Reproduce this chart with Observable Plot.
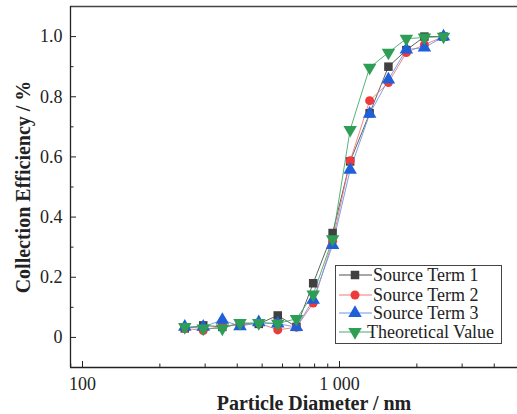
<!DOCTYPE html>
<html><head><meta charset="utf-8">
<style>
body{margin:0;background:#fff;font-family:"Liberation Serif","Times New Roman",serif}
svg{display:block}
</style>
<script src="https://cdn.jsdelivr.net/npm/d3@7"></script>
<script src="https://cdn.jsdelivr.net/npm/@observablehq/plot@0.6"></script>
</head><body>
<div id="chart"></div>
<script>
// ---- data ----
const diameters = [250, 295, 350, 410, 485, 575, 680, 790, 940, 1100, 1310, 1550, 1820, 2140, 2540];
const seriesNames = ["Source Term 1", "Source Term 2", "Source Term 3", "Theoretical Value"];
const term1 = [0.030, 0.040, 0.035, 0.045, 0.045, 0.073, 0.035, 0.180, 0.347, 0.585, 0.745, 0.900, 0.955, 1.000, 1.000];
const term2 = [0.030, 0.023, 0.038, 0.042, 0.048, 0.025, 0.034, 0.114, 0.320, 0.587, 0.787, 0.847, 0.947, 0.973, 1.000];
const term3 = [0.035, 0.035, 0.058, 0.037, 0.050, 0.046, 0.034, 0.125, 0.307, 0.557, 0.743, 0.857, 0.957, 0.963, 1.000];
const theory = [0.035, 0.030, 0.030, 0.048, 0.048, 0.046, 0.062, 0.143, 0.327, 0.690, 0.897, 0.947, 0.993, 0.997, 1.000];
const xTicksMajor = [100, 1000];
const xTickLabels = ["100", "1 000"];
const xTicksMinor = [90, 200, 300, 400, 500, 600, 700, 800, 900, 2000, 3000, 4000];
const yTicksMajor = [0, 0.2, 0.4, 0.6, 0.8, 1.0];
const yTickLabels = ["0", "0.2", "0.4", "0.6", "0.8", "1.0"];
const yTicksMinor = [-0.1, 0.1, 0.3, 0.5, 0.7, 0.9];

// ---- styles ----
const markerColors = ["#404040", "#ee3a3a", "#1f5fd8", "#2e9e57"];
const lineColors = ["#505050", "#f07878", "#6b96e6", "#45a86a"];
const font = "Liberation Serif";
const downTriangle = {
  draw(ctx, size) {
    const t = Math.sqrt(size / (Math.sqrt(3) * 3));
    ctx.moveTo(0, 2 * t);
    ctx.lineTo(-Math.sqrt(3) * t, -t);
    ctx.lineTo(Math.sqrt(3) * t, -t);
    ctx.closePath();
  }
};
const symbols = ["square", "circle", "triangle", downTriangle];
const radii = [4.8, 4.5, 5, 5];

const allSeries = [term1, term2, term3, theory];
const rows = allSeries.flatMap((vals, si) => vals.map((v, i) => ({series: seriesNames[si], si, d: diameters[i], v})));

const xDomain = [89.8, 4927];
const yDomain = [-0.1, 1.1];

function draw() {
  const lineMarks = allSeries.map((vals, si) =>
    Plot.line(rows.filter(r => r.si === si), {x: "d", y: "v", stroke: lineColors[si], strokeWidth: 0.9}));
  const dotMarks = allSeries.map((vals, si) =>
    Plot.dot(rows.filter(r => r.si === si), {x: "d", y: "v", symbol: () => symbols[si], fill: markerColors[si], r: radii[si], stroke: "none"}));

  const chart = Plot.plot({
    width: 517, height: 414,
    marginLeft: 70, marginRight: 0, marginTop: 6, marginBottom: 47,
    style: {fontFamily: font, background: "#fff", color: "#222"},
    x: {type: "log", domain: xDomain, axis: null},
    y: {domain: yDomain, axis: null},
    symbol: {type: "identity"},
    marks: [
      Plot.ruleY([yDomain[1]], {stroke: "#444", strokeWidth: 1.3}),
      Plot.ruleY([yDomain[0]], {stroke: "#222", strokeWidth: 1.3}),
      Plot.ruleX([xDomain[0]], {stroke: "#222", strokeWidth: 1.3}),
      Plot.axisX(xTicksMajor, {anchor: "bottom", label: null, tickSize: 0, tickPadding: 10, fontSize: 18, tickFormat: d => xTickLabels[xTicksMajor.indexOf(d)], fill: "#222"}),
      Plot.axisX(xTicksMajor, {anchor: "bottom", label: null, tickSize: -6, tickFormat: () => "", stroke: "#222"}),
      Plot.axisX(xTicksMinor, {anchor: "bottom", label: null, tickSize: -3.5, tickFormat: () => "", stroke: "#222"}),
      Plot.axisY(yTicksMajor, {anchor: "left", label: null, tickSize: 0, tickPadding: 8, fontSize: 18, tickFormat: d => yTickLabels[yTicksMajor.indexOf(d)], fill: "#222"}),
      Plot.axisY(yTicksMajor, {anchor: "left", label: null, tickSize: -6, tickFormat: () => "", stroke: "#222"}),
      Plot.axisY(yTicksMinor, {anchor: "left", label: null, tickSize: -3.5, tickFormat: () => "", stroke: "#222"}),
      Plot.text(["Particle Diameter / nm"], {frameAnchor: "bottom", textAnchor: "middle", lineAnchor: "middle", dx: 20, dy: 36, fontSize: 20, fontWeight: "bold", fill: "#222"}),
      Plot.text(["Collection Efficiency / %"], {frameAnchor: "left", textAnchor: "middle", lineAnchor: "middle", rotate: -90, dx: -47, fontSize: 20, fontWeight: "bold", fill: "#222"}),
      ...lineMarks,
      ...dotMarks
    ]
  });

  // legend (drawn into the same SVG)
  const svg = d3.select(chart);
  const lg = svg.append("g").attr("font-size", 18).attr("fill", "#222").attr("text-anchor", "start");
  lg.append("rect").attr("x", 335.5).attr("y", 265.5).attr("width", 166).attr("height", 78)
    .attr("fill", "#fff").attr("stroke", "#444").attr("stroke-width", 1);
  const rowY = [275, 295, 313, 332];
  const textX = [373, 373, 373, 367];
  seriesNames.forEach((name, si) => {
    const y = rowY[si];
    lg.append("line").attr("x1", 339).attr("x2", 372).attr("y1", y).attr("y2", y)
      .attr("stroke", lineColors[si]).attr("stroke-width", 1);
    const sym = typeof symbols[si] === "string"
      ? {square: d3.symbolSquare, circle: d3.symbolCircle, triangle: d3.symbolTriangle}[symbols[si]]
      : symbols[si];
    lg.append("path").attr("d", d3.symbol(sym, Math.PI * radii[si] * radii[si])())
      .attr("transform", `translate(355,${y})`).attr("fill", markerColors[si]);
    lg.append("text").attr("x", textX[si]).attr("y", y).attr("dy", "0.35em").attr("text-anchor", "start").text(name);
  });

  svg.selectAll("text").each(function() {
    this.setAttribute("font-family", font);
    this.style.fontFamily = "'Liberation Serif'";
  });

  document.getElementById("chart").replaceChildren(chart);
}

draw();
if (document.fonts && document.fonts.ready) document.fonts.ready.then(draw);
</script>
</body></html>
